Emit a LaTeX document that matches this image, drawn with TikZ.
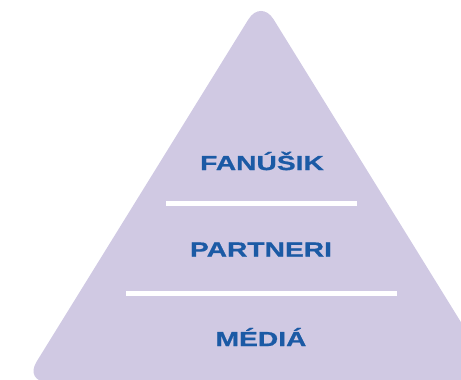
\documentclass[tikz,border=0pt]{standalone}
\usepackage{fontspec}
\newfontfamily\pyrfont[FakeStretch=1.38,FakeBold=0.8]{Liberation Sans}
\definecolor{lavender}{HTML}{D0C9E3}
\definecolor{pyrblue}{HTML}{1B5AA5}

\begin{document}
\begin{tikzpicture}[
        x = 1bp, y = -1bp,
        level/.style = {text=pyrblue, font=\pyrfont\bfseries\fontsize{20.5}{22}\selectfont},
        divider/.style = {draw=white, line width=5bp},
        ]

        % Frame
        \useasboundingbox (0,0) rectangle (461,379);
        \clip (0,0) rectangle (461,379);

        % Pyramid
        \fill[lavender, rounded corners=24bp] (261,-1) -- (498,382) -- (24,382) -- cycle;

        % Dividers
        \draw[divider] (166,203.5) -- (357,203.5);
        \draw[divider] (126,293.5) -- (397,293.5);

        % Levels
        \node[level] (fan) at (262,161) {FANÚŠIK};
        \node[level] (partneri) at (261,249.5) {PARTNERI};
        \node[level] (media) at (261,337) {MÉDIÁ};
    \end{tikzpicture}
\end{document}
